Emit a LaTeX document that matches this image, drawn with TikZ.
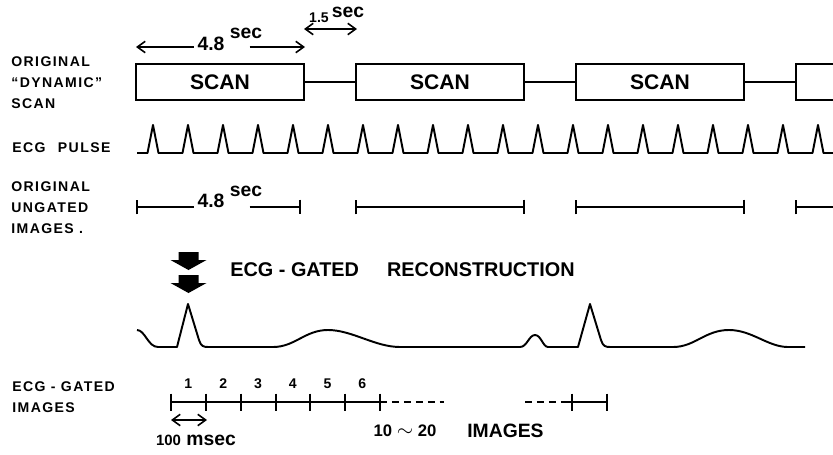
\documentclass[tikz,border=0pt]{standalone}
\usepackage{fontspec}
\setmainfont{Liberation Sans}
\newfontfamily\lblfont{Liberation Sans}[LetterSpace=10]
\usetikzlibrary{arrows.meta}

\tikzset{
  lbl/.style={font=\lblfont\bfseries\fontsize{8}{12}\selectfont, anchor=west, align=left, inner sep=0pt},
  scanbox/.style={draw, line width=1.1pt, minimum width=3.36cm, minimum height=0.72cm,
    inner sep=0pt, font=\bfseries\fontsize{12}{14}\selectfont},
  big/.style={font=\bfseries\fontsize{11}{13}\selectfont, inner sep=0pt},
  small/.style={font=\bfseries\fontsize{8}{10}\selectfont, inner sep=0pt},
  dim/.style={line width=0.9pt},
  span/.style={line width=1pt},
  wave/.style={line width=1.1pt, line join=round},
  dashy/.style={line width=1pt, dash pattern=on 4pt off 2.8pt},
}

\begin{document}
\begin{tikzpicture}[x=0.02cm, y=-0.02cm, >={Straight Barb[length=4.5pt,width=6.5pt]}]
  \clip (0,0) rectangle (833,454);

  % row labels
  \node[lbl] (lscan) at (11,83)  {ORIGINAL\\“DYNAMIC”\\SCAN};
  \node[lbl] (lecg)  at (12,148) {ECG\hspace{4pt} PULSE};
  \node[lbl] (lung)  at (11,208) {ORIGINAL\\UNGATED\\IMAGES .};
  \node[lbl] (lgat)  at (12,397) {ECG - GATED\\IMAGES};

  % scans (the last one runs off the edge)
  \foreach \i in {1,...,3}
    \node[scanbox] (scan\i) at (220*\i,82) {SCAN};
  \node[scanbox] (scan4) at (880,82) {};
  \foreach \i/\j in {1/2,2/3,3/4}
    \draw[line width=0.9pt] (scan\i.east) -- (scan\j.west);

  % 4.8 sec and 1.5 sec
  \coordinate (a48l) at (136,47);
  \coordinate (a48r) at (305,47);
  \node[big] (t48)  at (211,44) {4.8};
  \node[big] (t48s) at (246,33) {sec};
  \draw[dim,<-] (a48l) -- ([xshift=-2pt]t48.west |- a48l);
  \draw[dim,->] ([xshift=2pt]t48s.south |- a48r) -- (a48r);

  \coordinate (a15l) at (304,29);
  \coordinate (a15r) at (357,29);
  \node[small] (t15)  at (319,18) {1.5};
  \node[big]   (t15s) at (348,12) {sec};
  \draw[dim,<->] (a15l) -- (a15r);

  % ECG pulse
  \draw[wave] (137,153)
    \foreach \i in {0,...,19} { -- ({147.5+35*\i},153) -- ({153+35*\i},125) -- ({158.5+35*\i},153) }
    -- (833,153);

  % ungated images
  \coordinate (u1a) at (136,207);
  \coordinate (u1b) at (301,207);
  \coordinate (uend) at (840,207);
  \node[big] (u48)  at (211,201) {4.8};
  \node[big] (u48s) at (246,191) {sec};
  \draw[span,{Bar[width=8.5pt]}-] (u1a) -- ([xshift=-2pt]u48.west |- u1a);
  \draw[span,-{Bar[width=8.5pt]}] ([xshift=2pt]u48s.south |- u1a) -- (u1b);
  \foreach \i in {2,3}
    \draw[span,{Bar[width=8.5pt]}-{Bar[width=8.5pt]}] (scan\i.west |- u1a) -- (scan\i.east |- u1a);
  \draw[span,{Bar[width=8.5pt]}-] (scan4.west |- u1a) -- (uend);

  % gating arrows and title
  \foreach \y in {252,275}
    \fill (178.5,\y) -- ++(20,0) -- ++(0,8) -- ++(8,0) -- ++(-18,10) -- ++(-18,-10) -- ++(8,0) -- cycle;
  \node[big,anchor=west,font=\bfseries\fontsize{11.3}{13}\selectfont] (title) at (230,270)
    {ECG - GATED\hspace{16pt}RECONSTRUCTION};

  % ECG trace
  \draw[wave] (137,330) .. controls (145,330) and (148,347) .. (158,347) -- (177,347)
    -- (188,304) -- (199,340) .. controls (201,346) and (203,347) .. (208,347) -- (273,347)
    .. controls (295,347) and (305,330) .. (328,330) .. controls (352,330) and (375,347) .. (400,347)
    -- (520,347) .. controls (527,347) and (529,335) .. (535,335) .. controls (541,335) and (543,347) .. (548,347)
    -- (578,347) -- (590,304) -- (601,340) .. controls (603,346) and (605,347) .. (610,347) -- (673,347)
    .. controls (695,347) and (705,330) .. (729,330) .. controls (752,330) and (768,347) .. (788,347) -- (805,347);

  % gated images
  \foreach \x [count=\i from 0] in {171,206,241,276,310,345,380}
    \coordinate (g\i) at (\x,402);
  \coordinate (gd0) at (444,402);
  \coordinate (gd1) at (525,402);
  \coordinate (gd2) at (561,402);
  \coordinate (g7) at (572,402);
  \coordinate (g8) at (607,402);
  \draw[span] (g0) -- (g6);
  \draw[dashy] (g6) -- (gd0);
  \draw[dashy] (gd1) -- (gd2);
  \draw[span] (gd2) -- (g8);
  \foreach \i in {0,...,8}
    \draw[span] (g\i) ++(0,-8.5) -- ++(0,17);
  \foreach \i [count=\n] in {0,...,5}
    \node[small] (n\n) at ({188.4+34.8*\i},384) {\n};

  \coordinate (m0) at (171,420);
  \coordinate (m1) at (207,420);
  \draw[dim,<->] (m0) -- (m1);
  \node[big,anchor=base] (t100) at (196,445) {{\fontsize{8.5}{10}\selectfont 100} msec};
  \node[small,anchor=base] (t1020) at (405,436) {\fontsize{9.5}{11}\selectfont 10\;{\large$\sim$}\;20};
  \node[big,anchor=base west] (timg) at (467,437) {IMAGES};
\end{tikzpicture}
\end{document}
